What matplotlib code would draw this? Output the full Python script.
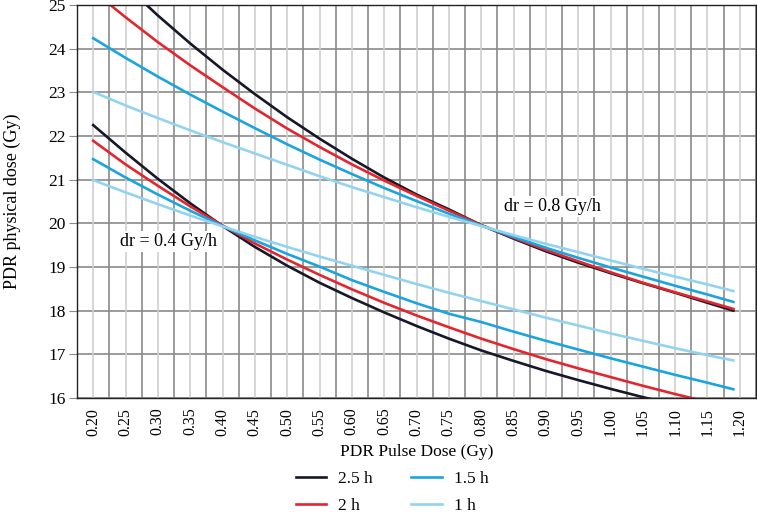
import matplotlib
matplotlib.use("Agg")
import matplotlib.pyplot as plt
import numpy as np

# ---- data ----
pulse_dose = [0.20, 0.25, 0.30, 0.35, 0.40, 0.45, 0.50, 0.55, 0.60, 0.65, 0.70,
              0.75, 0.80, 0.85, 0.90, 0.95, 1.00, 1.05, 1.10, 1.15, 1.19]

# dr = 0.8 Gy/h family
hi_25 = [26.20, 25.45, 24.76, 24.12, 23.52, 22.96, 22.43, 21.94, 21.48, 21.05, 20.66,
         20.32, 19.96, 19.65, 19.36, 19.10, 18.86, 18.63, 18.41, 18.18, 18.00]
hi_20 = [25.32, 24.72, 24.15, 23.62, 23.12, 22.63, 22.17, 21.75, 21.35, 20.98, 20.63,
         20.29, 19.96, 19.67, 19.39, 19.13, 18.88, 18.64, 18.42, 18.21, 18.04]
hi_15 = [24.24, 23.79, 23.36, 22.95, 22.56, 22.18, 21.81, 21.46, 21.13, 20.81, 20.51,
         20.22, 19.95, 19.69, 19.44, 19.21, 18.99, 18.78, 18.57, 18.37, 18.20]
hi_10 = [23.01, 22.70, 22.41, 22.13, 21.86, 21.60, 21.34, 21.08, 20.83, 20.60, 20.37,
         20.15, 19.94, 19.73, 19.53, 19.34, 19.15, 18.96, 18.78, 18.60, 18.45]

# dr = 0.4 Gy/h family
lo_25 = [22.25, 21.62, 21.02, 20.46, 19.94, 19.46, 19.03, 18.64, 18.29, 17.96, 17.65,
         17.36, 17.09, 16.85, 16.62, 16.41, 16.21, 16.02, 15.84, 15.67, 15.54]
lo_20 = [21.89, 21.35, 20.86, 20.39, 19.95, 19.54, 19.17, 18.82, 18.49, 18.18, 17.89,
         17.62, 17.36, 17.12, 16.89, 16.68, 16.48, 16.28, 16.09, 15.91, 15.77]
lo_15 = [21.47, 21.05, 20.66, 20.29, 19.94, 19.61, 19.30, 19.01, 18.70, 18.43, 18.17,
         17.93, 17.74, 17.52, 17.31, 17.11, 16.91, 16.72, 16.53, 16.35, 16.20]
lo_10 = [20.99, 20.71, 20.44, 20.18, 19.93, 19.69, 19.46, 19.24, 19.03, 18.82, 18.61,
         18.41, 18.22, 18.03, 17.84, 17.66, 17.48, 17.31, 17.14, 16.98, 16.86]

labels = ["2.5 h", "2 h", "1.5 h", "1 h"]
colors = ["#161828", "#e3262d", "#1ba4dd", "#92d3f0"]
hi_series = [hi_25, hi_20, hi_15, hi_10]
lo_series = [lo_25, lo_20, lo_15, lo_10]

x_ticks = [0.20, 0.25, 0.30, 0.35, 0.40, 0.45, 0.50, 0.55, 0.60, 0.65, 0.70,
           0.75, 0.80, 0.85, 0.90, 0.95, 1.00, 1.05, 1.10, 1.15, 1.20]
y_ticks = [16, 17, 18, 19, 20, 21, 22, 23, 24, 25]

# ---- figure ----
plt.rcParams['font.family'] = ['Liberation Serif', 'DejaVu Serif']
fig = plt.figure(figsize=(7.57, 5.15), dpi=100)
ax = fig.add_axes([77/757, (515-398)/515, 679/757, 393/515])

ax.set_xlim(0.175, 1.225)
ax.set_ylim(16, 25)

# grid
for v in y_ticks:
    ax.axhline(v, color="#8a8a8a", lw=1.2, zorder=1)
for t in x_ticks:
    ax.axvline(t, color="#cfcfcf", lw=1.2, zorder=1)
for t in x_ticks:
    ax.axvline(t + 0.025, color="#8a8a8a", lw=1.2, zorder=1)

handles = []
for lab, col, hs, ls in zip(labels, colors, hi_series, lo_series):
    h, = ax.plot(pulse_dose, hs, color=col, lw=1.9, label=lab, zorder=3)
    ax.plot(pulse_dose, ls, color=col, lw=1.9, zorder=3)
    handles.append(h)

ax.set_xticks(x_ticks)
ax.set_xticklabels([f"{t:.2f}" for t in x_ticks], rotation=90, fontsize=11.5)
ax.set_yticks(y_ticks)
ax.set_yticklabels([str(v) for v in y_ticks], fontsize=12.5)
ax.tick_params(axis='x', length=0, pad=7)
ax.tick_params(axis='y', length=6, color="#8a8a8a", pad=2)

for s in ax.spines.values():
    s.set_color("#222222")
    s.set_linewidth(1.0)
    s.set_zorder(4)

ax.set_xlabel("PDR Pulse Dose (Gy)", fontsize=12.5, labelpad=6)
ax.set_ylabel("PDR physical dose (Gy)", fontsize=13, labelpad=20)

bbox = dict(facecolor="white", edgecolor="none", pad=1.5)
ax.text(0.316, 19.58, "dr = 0.4 Gy/h", fontsize=13, ha="center", va="center",
        bbox=bbox, zorder=2)
ax.text(0.910, 20.38, "dr = 0.8 Gy/h", fontsize=13, ha="center", va="center",
        bbox=bbox, zorder=2)

leg = fig.legend(handles=handles, labels=labels, ncol=2, loc="lower center",
                 bbox_to_anchor=(0.518, -0.028), frameon=False, fontsize=12.5,
                 handlelength=1.75, handletextpad=0.7, columnspacing=2.2,
                 labelspacing=0.6)

fig.savefig("out.png", dpi=100)
